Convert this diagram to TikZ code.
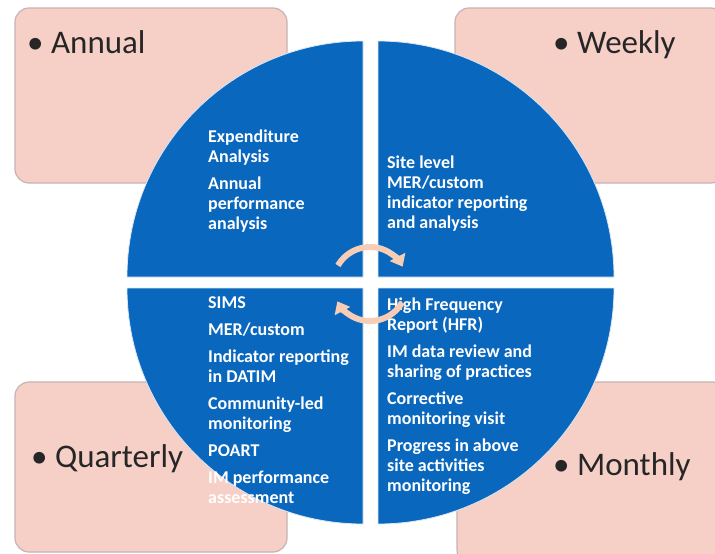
\documentclass[tikz,border=0pt]{standalone}
\usepackage{fontspec}
\setmainfont{Carlito}
\usetikzlibrary{arrows.meta}
\definecolor{quadblue}{RGB}{10,103,190}
\definecolor{boxpink}{RGB}{246,207,199}
\definecolor{boxline}{RGB}{200,178,180}
\definecolor{cyclepeach}{RGB}{248,205,182}

\begin{document}
\begin{tikzpicture}[x=1pt, y=1pt,
    freqbox/.style={draw=boxline, fill=boxpink, line width=1.2pt, rounded corners=14pt, inner sep=0pt},
    freqlabel/.style={anchor=base west, inner sep=0pt, text=black!85, font=\fontsize{33}{39}\selectfont},
    quad/.style={fill=quadblue, draw=white!85!quadblue, line width=0.8pt},
    quadtext/.style={anchor=north west, inner sep=0pt, align=left, text=white, font=\bfseries\fontsize{18}{20}\selectfont},
    cyclearrow/.style={cyclepeach, line width=6pt, -{Triangle[width=17pt, length=11pt]}}]
  \useasboundingbox (0,0) rectangle (715,-554);
  \clip (0,0) rectangle (715,-554);

  % frequency boxes, behind the circle
  \node[freqbox, minimum width=272pt, minimum height=175pt] (annual) at (151,-95.5) {};
  \node[freqbox, minimum width=270pt, minimum height=175pt] (weekly) at (590,-95.5) {};
  \node[freqbox, minimum width=272pt, minimum height=170pt] (quarterly) at (151,-467) {};
  \node[freqbox, minimum width=270pt, minimum height=182pt] (monthly) at (592,-473) {};

  \node[freqlabel] (annual-lbl) at (27,-53) {• Annual};
  \node[freqlabel] (weekly-lbl) at (553,-53) {• Weekly};
  \node[freqlabel] (quarterly-lbl) at (31,-467) {• Quarterly};
  \node[freqlabel] (monthly-lbl) at (553,-475) {• Monthly};

  % the four quarters of the split circle
  \foreach \cx/\cy/\a in {363/-277/90, 378/-277/0, 363/-288/180, 378/-288/270}
    \filldraw[quad] (\cx,\cy) -- ++(\a:236) arc[start angle=\a, delta angle=90, radius=236] -- cycle;

  \node[quadtext] (annual-items) at (208,-130) {Expenditure\\ Analysis\\[7pt] Annual\\ performance\\ analysis};
  \node[quadtext] (weekly-items) at (387,-156) {Site level\\ MER/custom\\ indicator reporting\\ and analysis};
  \node[quadtext] (quarterly-items) at (208,-296) {SIMS\\[7pt] MER/custom\\[7pt] Indicator reporting\\ in DATIM\\[7pt]
    Community-led\\ monitoring\\[7pt] POART\\[7pt] IM performance\\ assessment};
  \node[quadtext] (monthly-items) at (387,-298) {High Frequency\\ Report (HFR)\\[7pt] IM data review and\\ sharing of practices\\[7pt]
    Corrective\\ monitoring visit\\[7pt] Progress in above\\ site activities\\ monitoring};

  % cycle arrows in the middle
  \coordinate (hub) at (370,-284);
  \draw[cyclearrow] ([shift={(150:37)}]hub) arc[start angle=150, end angle=28, radius=37];
  \draw[cyclearrow] ([shift={(-30:37)}]hub) arc[start angle=-30, end angle=-152, radius=37];
\end{tikzpicture}
\end{document}
